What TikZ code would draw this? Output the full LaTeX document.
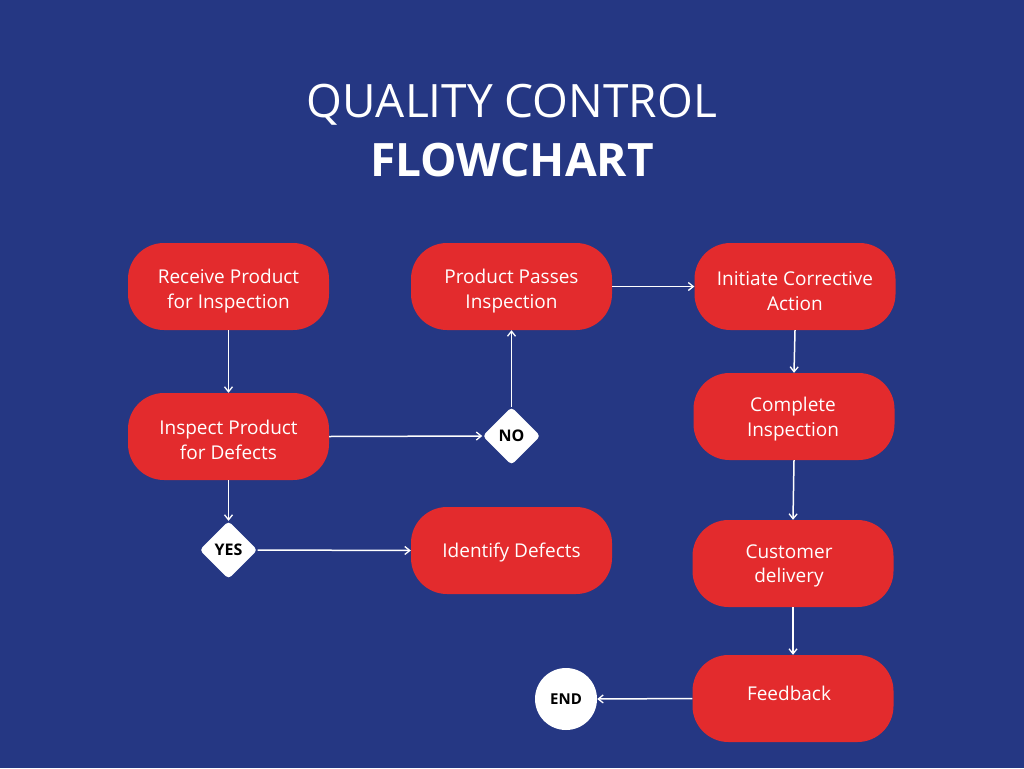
\documentclass[tikz,border=0pt]{standalone}
\usepackage{fontspec}
\setmainfont{Open Sans}
\usetikzlibrary{arrows.meta,shapes.geometric}
\definecolor{bgblue}{HTML}{253783}
\definecolor{boxred}{HTML}{E32B2D}
\tikzset{
  box/.style={fill=boxred, draw=none, rounded corners=36pt, minimum width=201pt, minimum height=87pt, text=white, align=center, font=\fontsize{19}{24.5}\selectfont, inner sep=0pt},
  lbl/.style={text=white, align=center, font=\fontsize{19}{24.5}\selectfont, inner sep=0pt},
  dec/.style={diamond, fill=white, rounded corners=4pt, minimum width=58pt, minimum height=58pt, inner sep=0pt, font=\bfseries\fontsize{16}{18}\selectfont, text=black},
  endc/.style={circle, fill=white, minimum size=62pt, inner sep=0pt, font=\bfseries\fontsize{15}{17}\selectfont, text=black},
  conn/.style={draw=white, line width=1.5pt, -{Straight Barb[length=5pt,width=8pt,line width=1.3pt]}}
}
\begin{document}
\begin{tikzpicture}[x=1pt,y=-1pt]
\useasboundingbox (0,0) rectangle (1024,768);
\fill[bgblue] (0,0) rectangle (1024,768);
\node[text=white, font=\fontsize{46}{50}\selectfont] (t1) at (512,105) {QUALITY CONTROL};
\node[text=white, font=\bfseries\fontsize{46}{50}\selectfont] (t2) at (512,160) {FLOWCHART};

\node[box] (receive) at (228.5,286.5) {};
\node[box] (passes) at (511.5,286.5) {};
\node[box] (initiate) at (795,286.5) {};
\node[box] (inspect) at (228.5,436.5) {};
\node[box] (complete) at (794,416.5) {};
\node[box] (identify) at (511.5,550.5) {};
\node[box] (customer) at (793,563.5) {};
\node[box] (feedback) at (793,698.5) {};
\node[lbl] (receiveT) at (228.5,291) {Receive Product\\for Inspection};
\node[lbl] (passesT) at (511.5,291) {Product Passes\\Inspection};
\node[lbl] (initiateT) at (795,291) {Initiate Corrective\\Action};
\node[lbl] (inspectT) at (228.5,440) {Inspect Product\\for Defects};
\node[lbl] (completeT) at (793,419) {Complete\\Inspection};
\node[lbl] (identifyT) at (511.5,553) {Identify Defects};
\node[lbl] (customerT) at (789,566) {Customer\\delivery};
\node[lbl] (feedbackT) at (789,693) {Feedback};
\node[dec] (yes) at (228.5,550) {YES};
\node[dec] (no) at (511.5,436) {NO};
\node[endc] (end) at (566,699) {END};

\draw[conn] (receive.south) -- (inspect.north);
\draw[conn] (inspect.south) -- (yes.north);
\draw[conn] (yes.east) -- (identify.west);
\draw[conn] (inspect.east) -- (no.west);
\draw[conn] (no.north) -- (passes.south);
\draw[conn] (passes.east) -- (initiate.west);
\draw[conn] (initiate.south) -- (complete.north);
\draw[conn] (complete.south) -- (customer.north);
\draw[conn] (customer.south) -- (feedback.north);
\draw[conn] (feedback.west) -- (end.east);
\end{tikzpicture}
\end{document}
